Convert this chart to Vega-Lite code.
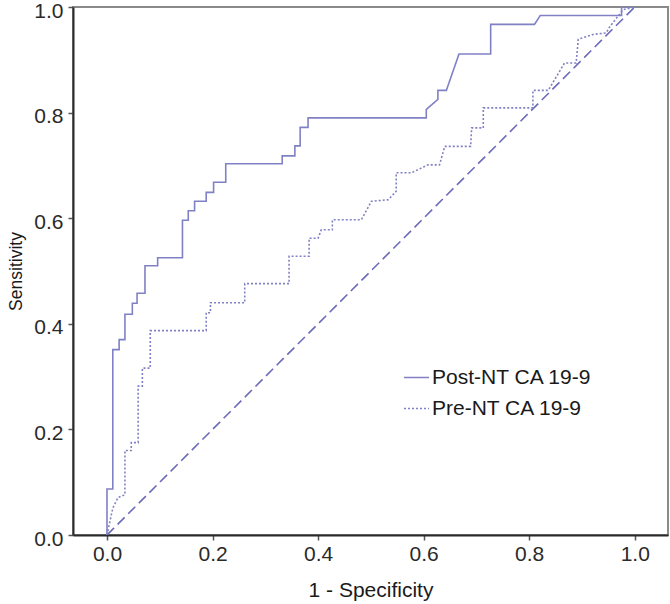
{
  "$schema": "https://vega.github.io/schema/vega-lite/v6.json",
  "width": 595,
  "height": 528,
  "autosize": {"type": "none"},
  "padding": {"left": 73, "top": 7, "right": 2, "bottom": 69},
  "background": "white",
  "config": {
    "view": {"stroke": "#8a8a8a", "strokeWidth": 2},
    "font": "Liberation Sans",
    "axis": {
      "grid": false,
      "domainColor": "#2a2a2a",
      "domainWidth": 2,
      "tickColor": "#555555",
      "tickSize": 5,
      "tickWidth": 1.5,
      "labelFontSize": 21,
      "labelColor": "#2a2a2a",
      "labelFont": "Liberation Sans",
      "titleFont": "Liberation Sans",
      "titleFontWeight": "normal",
      "titleColor": "#1a1a1a"
    },
    "legend": {
      "orient": "none",
      "legendX": 330,
      "legendY": 357,
      "padding": 0,
      "labelFontSize": 21,
      "labelFont": "Liberation Sans",
      "labelColor": "#1a1a1a",
      "labelOffset": 2,
      "rowPadding": 7,
      "symbolType": "stroke",
      "symbolSize": 625,
      "symbolStrokeWidth": 1.5,
      "symbolStrokeColor": "#8080c4",
      "title": null
    }
  },
  "datasets": {
    "diag": [{"x": 0, "y": 0}, {"x": 1, "y": 1}],
    "roc": [
      {"s": "Post-NT CA 19-9", "o": 1, "x": 0, "y": 0},
      {"s": "Post-NT CA 19-9", "o": 2, "x": 0, "y": 0.087},
      {"s": "Post-NT CA 19-9", "o": 3, "x": 0.011, "y": 0.087},
      {"s": "Post-NT CA 19-9", "o": 4, "x": 0.011, "y": 0.351},
      {"s": "Post-NT CA 19-9", "o": 5, "x": 0.023, "y": 0.351},
      {"s": "Post-NT CA 19-9", "o": 6, "x": 0.023, "y": 0.37},
      {"s": "Post-NT CA 19-9", "o": 7, "x": 0.034, "y": 0.37},
      {"s": "Post-NT CA 19-9", "o": 8, "x": 0.034, "y": 0.418},
      {"s": "Post-NT CA 19-9", "o": 9, "x": 0.048, "y": 0.418},
      {"s": "Post-NT CA 19-9", "o": 10, "x": 0.048, "y": 0.439},
      {"s": "Post-NT CA 19-9", "o": 11, "x": 0.057, "y": 0.439},
      {"s": "Post-NT CA 19-9", "o": 12, "x": 0.057, "y": 0.458},
      {"s": "Post-NT CA 19-9", "o": 13, "x": 0.072, "y": 0.458},
      {"s": "Post-NT CA 19-9", "o": 14, "x": 0.072, "y": 0.51},
      {"s": "Post-NT CA 19-9", "o": 15, "x": 0.096, "y": 0.51},
      {"s": "Post-NT CA 19-9", "o": 16, "x": 0.096, "y": 0.525},
      {"s": "Post-NT CA 19-9", "o": 17, "x": 0.143, "y": 0.525},
      {"s": "Post-NT CA 19-9", "o": 18, "x": 0.143, "y": 0.596},
      {"s": "Post-NT CA 19-9", "o": 19, "x": 0.154, "y": 0.596},
      {"s": "Post-NT CA 19-9", "o": 20, "x": 0.154, "y": 0.614},
      {"s": "Post-NT CA 19-9", "o": 21, "x": 0.166, "y": 0.614},
      {"s": "Post-NT CA 19-9", "o": 22, "x": 0.166, "y": 0.632},
      {"s": "Post-NT CA 19-9", "o": 23, "x": 0.188, "y": 0.632},
      {"s": "Post-NT CA 19-9", "o": 24, "x": 0.188, "y": 0.649},
      {"s": "Post-NT CA 19-9", "o": 25, "x": 0.202, "y": 0.649},
      {"s": "Post-NT CA 19-9", "o": 26, "x": 0.202, "y": 0.668},
      {"s": "Post-NT CA 19-9", "o": 27, "x": 0.225, "y": 0.668},
      {"s": "Post-NT CA 19-9", "o": 28, "x": 0.225, "y": 0.703},
      {"s": "Post-NT CA 19-9", "o": 29, "x": 0.332, "y": 0.703},
      {"s": "Post-NT CA 19-9", "o": 30, "x": 0.332, "y": 0.718},
      {"s": "Post-NT CA 19-9", "o": 31, "x": 0.356, "y": 0.718},
      {"s": "Post-NT CA 19-9", "o": 32, "x": 0.356, "y": 0.737},
      {"s": "Post-NT CA 19-9", "o": 33, "x": 0.366, "y": 0.737},
      {"s": "Post-NT CA 19-9", "o": 34, "x": 0.366, "y": 0.772},
      {"s": "Post-NT CA 19-9", "o": 35, "x": 0.381, "y": 0.772},
      {"s": "Post-NT CA 19-9", "o": 36, "x": 0.381, "y": 0.79},
      {"s": "Post-NT CA 19-9", "o": 37, "x": 0.605, "y": 0.79},
      {"s": "Post-NT CA 19-9", "o": 38, "x": 0.605, "y": 0.806},
      {"s": "Post-NT CA 19-9", "o": 39, "x": 0.627, "y": 0.825},
      {"s": "Post-NT CA 19-9", "o": 40, "x": 0.627, "y": 0.842},
      {"s": "Post-NT CA 19-9", "o": 41, "x": 0.643, "y": 0.842},
      {"s": "Post-NT CA 19-9", "o": 42, "x": 0.667, "y": 0.911},
      {"s": "Post-NT CA 19-9", "o": 43, "x": 0.727, "y": 0.911},
      {"s": "Post-NT CA 19-9", "o": 44, "x": 0.727, "y": 0.967},
      {"s": "Post-NT CA 19-9", "o": 45, "x": 0.81, "y": 0.967},
      {"s": "Post-NT CA 19-9", "o": 46, "x": 0.821, "y": 0.984},
      {"s": "Post-NT CA 19-9", "o": 47, "x": 0.975, "y": 0.984},
      {"s": "Post-NT CA 19-9", "o": 48, "x": 0.975, "y": 1.0},
      {"s": "Post-NT CA 19-9", "o": 49, "x": 1.0, "y": 1.0},
      {"s": "Pre-NT CA 19-9", "o": 1, "x": 0, "y": 0},
      {"s": "Pre-NT CA 19-9", "o": 2, "x": 0.011, "y": 0.051},
      {"s": "Pre-NT CA 19-9", "o": 3, "x": 0.021, "y": 0.071},
      {"s": "Pre-NT CA 19-9", "o": 4, "x": 0.034, "y": 0.076},
      {"s": "Pre-NT CA 19-9", "o": 5, "x": 0.034, "y": 0.16},
      {"s": "Pre-NT CA 19-9", "o": 6, "x": 0.046, "y": 0.16},
      {"s": "Pre-NT CA 19-9", "o": 7, "x": 0.046, "y": 0.175},
      {"s": "Pre-NT CA 19-9", "o": 8, "x": 0.059, "y": 0.175},
      {"s": "Pre-NT CA 19-9", "o": 9, "x": 0.059, "y": 0.282},
      {"s": "Pre-NT CA 19-9", "o": 10, "x": 0.067, "y": 0.282},
      {"s": "Pre-NT CA 19-9", "o": 11, "x": 0.067, "y": 0.316},
      {"s": "Pre-NT CA 19-9", "o": 12, "x": 0.082, "y": 0.316},
      {"s": "Pre-NT CA 19-9", "o": 13, "x": 0.082, "y": 0.387},
      {"s": "Pre-NT CA 19-9", "o": 14, "x": 0.188, "y": 0.387},
      {"s": "Pre-NT CA 19-9", "o": 15, "x": 0.188, "y": 0.421},
      {"s": "Pre-NT CA 19-9", "o": 16, "x": 0.196, "y": 0.421},
      {"s": "Pre-NT CA 19-9", "o": 17, "x": 0.196, "y": 0.44},
      {"s": "Pre-NT CA 19-9", "o": 18, "x": 0.261, "y": 0.44},
      {"s": "Pre-NT CA 19-9", "o": 19, "x": 0.261, "y": 0.476},
      {"s": "Pre-NT CA 19-9", "o": 20, "x": 0.345, "y": 0.476},
      {"s": "Pre-NT CA 19-9", "o": 21, "x": 0.345, "y": 0.528},
      {"s": "Pre-NT CA 19-9", "o": 22, "x": 0.383, "y": 0.528},
      {"s": "Pre-NT CA 19-9", "o": 23, "x": 0.383, "y": 0.562},
      {"s": "Pre-NT CA 19-9", "o": 24, "x": 0.4, "y": 0.562},
      {"s": "Pre-NT CA 19-9", "o": 25, "x": 0.406, "y": 0.578},
      {"s": "Pre-NT CA 19-9", "o": 26, "x": 0.427, "y": 0.578},
      {"s": "Pre-NT CA 19-9", "o": 27, "x": 0.427, "y": 0.597},
      {"s": "Pre-NT CA 19-9", "o": 28, "x": 0.482, "y": 0.597},
      {"s": "Pre-NT CA 19-9", "o": 29, "x": 0.501, "y": 0.632},
      {"s": "Pre-NT CA 19-9", "o": 30, "x": 0.533, "y": 0.635},
      {"s": "Pre-NT CA 19-9", "o": 31, "x": 0.548, "y": 0.651},
      {"s": "Pre-NT CA 19-9", "o": 32, "x": 0.548, "y": 0.686},
      {"s": "Pre-NT CA 19-9", "o": 33, "x": 0.577, "y": 0.686},
      {"s": "Pre-NT CA 19-9", "o": 34, "x": 0.608, "y": 0.701},
      {"s": "Pre-NT CA 19-9", "o": 35, "x": 0.63, "y": 0.701},
      {"s": "Pre-NT CA 19-9", "o": 36, "x": 0.64, "y": 0.736},
      {"s": "Pre-NT CA 19-9", "o": 37, "x": 0.689, "y": 0.736},
      {"s": "Pre-NT CA 19-9", "o": 38, "x": 0.691, "y": 0.771},
      {"s": "Pre-NT CA 19-9", "o": 39, "x": 0.713, "y": 0.771},
      {"s": "Pre-NT CA 19-9", "o": 40, "x": 0.713, "y": 0.809},
      {"s": "Pre-NT CA 19-9", "o": 41, "x": 0.807, "y": 0.809},
      {"s": "Pre-NT CA 19-9", "o": 42, "x": 0.807, "y": 0.842},
      {"s": "Pre-NT CA 19-9", "o": 43, "x": 0.836, "y": 0.842},
      {"s": "Pre-NT CA 19-9", "o": 44, "x": 0.867, "y": 0.894},
      {"s": "Pre-NT CA 19-9", "o": 45, "x": 0.889, "y": 0.894},
      {"s": "Pre-NT CA 19-9", "o": 46, "x": 0.893, "y": 0.939},
      {"s": "Pre-NT CA 19-9", "o": 47, "x": 0.921, "y": 0.948},
      {"s": "Pre-NT CA 19-9", "o": 48, "x": 0.946, "y": 0.951},
      {"s": "Pre-NT CA 19-9", "o": 49, "x": 0.953, "y": 0.963},
      {"s": "Pre-NT CA 19-9", "o": 50, "x": 0.978, "y": 0.995},
      {"s": "Pre-NT CA 19-9", "o": 51, "x": 1.0, "y": 1.0}
    ]
  },
  "encoding": {
    "x": {
      "field": "x",
      "type": "quantitative",
      "scale": {"domain": [-0.0644, 1.063], "nice": false, "zero": false},
      "axis": {
        "title": "1 - Specificity",
        "titleFontSize": 21,
        "titlePadding": 15,
        "values": [0, 0.2, 0.4, 0.6, 0.8, 1.0],
        "format": ".1f",
        "labelPadding": 3
      }
    },
    "y": {
      "field": "y",
      "type": "quantitative",
      "scale": {"domain": [0, 1], "nice": false},
      "axis": {
        "title": "Sensitivity",
        "titleFontSize": 17.5,
        "titlePadding": 8,
        "values": [0, 0.2, 0.4, 0.6, 0.8, 1.0],
        "format": ".1f",
        "labelPadding": 5,
        "labelOffset": 4
      }
    }
  },
  "layer": [
    {
      "data": {"name": "diag"},
      "mark": {"type": "line", "color": "#6b6bb8", "strokeWidth": 1.6, "strokeDash": [10, 5], "clip": true}
    },
    {
      "data": {"name": "roc"},
      "mark": {"type": "line", "color": "#8080c4", "strokeWidth": 1.6, "clip": true},
      "encoding": {
        "order": {"field": "o", "type": "quantitative"},
        "strokeDash": {
          "field": "s",
          "type": "nominal",
          "scale": {"domain": ["Post-NT CA 19-9", "Pre-NT CA 19-9"], "range": [[1, 0], [2, 2]]},
          "legend": {"title": null}
        }
      }
    }
  ]
}
